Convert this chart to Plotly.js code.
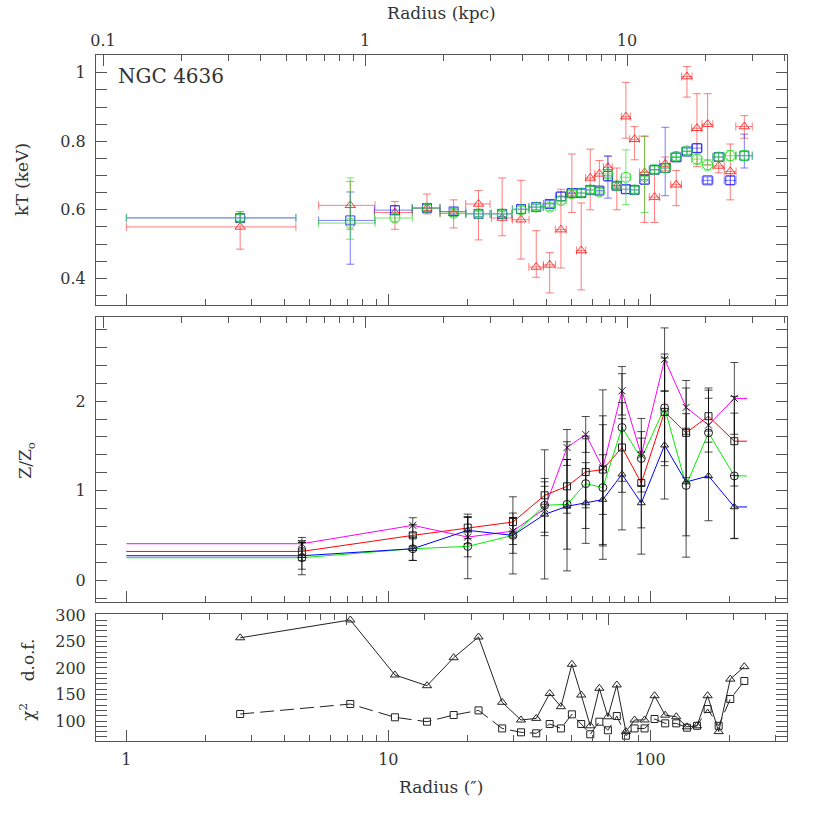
<!DOCTYPE html>
<html><head><meta charset="utf-8">
<script src="https://cdn.plot.ly/plotly-3.0.1.min.js"></script>
<style>html,body{margin:0;padding:0;background:#fff}#chart{width:830px;height:830px}</style>
</head><body><div id="chart"></div>
<script>
// ---------- Data ----------
// Top panel: temperature profile (arcsec)
const kTRadius = [2.72, 7.16, 10.6, 14.05, 17.76, 22.1, 27.2, 32.1, 36.7, 41.3, 45.6, 50.2, 54.5, 59.0, 63.9, 68.9, 74.5, 80.7, 87.1, 95.1, 103.8, 114, 125.6, 138, 150.7, 165.5, 182.4, 202, 228.5];
const kTRadiusErr = [1.72, 1.74, 1.75, 1.7, 2.0, 2.35, 2.45, 2.35, 2.3, 2.2, 2.2, 2.2, 2.2, 2.35, 2.45, 2.65, 2.95, 3.15, 3.6, 4.2, 4.7, 5.5, 6.0, 6.3, 6.9, 7.9, 9.1, 10.5, 16.5];
const kTRed = [0.55, 0.613, 0.592, 0.605, 0.590, 0.617, 0.576, 0.571, 0.433, 0.439, 0.542, 0.647, 0.481, 0.693, 0.705, 0.724, 0.670, 0.872, 0.806, 0.709, 0.637, 0.734, 0.673, 0.989, 0.838, 0.850, 0.728, 0.712, 0.843];
const kTRedErrHi = [0.045, 0.07, 0.032, 0.041, 0.039, 0.039, 0.117, 0.115, 0.106, 0.036, 0.118, 0.116, 0.139, 0.084, 0.039, 0.034, 0.052, 0.10, 0.037, 0.105, 0.08, 0.02, 0.042, 0.029, 0.101, 0.089, 0.015, 0.08, 0.032];
const kTRedErrLo = [0.065, 0.07, 0.049, 0.017, 0.043, 0.105, 0.052, 0.115, 0.03, 0.082, 0.112, 0.055, 0.115, 0.093, 0.039, 0.041, 0.07, 0.063, 0.06, 0.146, 0.074, 0.02, 0.061, 0.06, 0.112, 0.119, 0.02, 0.083, 0.034];
const kTBlue = [0.576, 0.569, 0.599, 0.605, 0.595, 0.588, 0.588, 0.602, 0.608, 0.617, 0.639, 0.649, 0.649, 0.658, 0.656, 0.699, 0.670, 0.660, 0.658, 0.688, 0.717, 0.722, 0.753, 0.770, 0.780, 0.686, 0.754, 0.686, 0.758];
const kTBlueErrHi = [0.01, 0.083, 0.012, 0.01, 0.01, 0.008, 0.008, 0.013, 0.008, 0.01, 0.012, 0.012, 0.01, 0.01, 0.01, 0.057, 0.01, 0.012, 0.01, 0.013, 0.012, 0.119, 0.012, 0.01, 0.012, 0.01, 0.012, 0.012, 0.063];
const kTBlueErrLo = [0.01, 0.128, 0.012, 0.01, 0.01, 0.008, 0.008, 0.013, 0.008, 0.01, 0.012, 0.012, 0.01, 0.01, 0.01, 0.065, 0.01, 0.012, 0.01, 0.013, 0.012, 0.081, 0.012, 0.01, 0.012, 0.01, 0.012, 0.012, 0.036];
const kTGreen = [0.577, 0.561, 0.576, 0.605, 0.590, 0.588, 0.588, 0.600, 0.608, 0.608, 0.627, 0.647, 0.649, 0.658, 0.652, 0.705, 0.670, 0.695, 0.658, 0.697, 0.717, 0.722, 0.756, 0.772, 0.748, 0.731, 0.754, 0.758, 0.758];
const kTGreenErrHi = [0.01, 0.132, 0.01, 0.01, 0.01, 0.01, 0.01, 0.01, 0.01, 0.01, 0.01, 0.01, 0.01, 0.01, 0.01, 0.012, 0.01, 0.08, 0.01, 0.119, 0.01, 0.012, 0.012, 0.01, 0.015, 0.015, 0.012, 0.015, 0.015];
const kTGreenErrLo = [0.01, 0.047, 0.01, 0.01, 0.01, 0.01, 0.01, 0.01, 0.01, 0.01, 0.01, 0.01, 0.01, 0.01, 0.01, 0.012, 0.01, 0.08, 0.01, 0.105, 0.01, 0.012, 0.012, 0.01, 0.015, 0.015, 0.012, 0.015, 0.015];

// Middle panel: abundance profile
const zRadius = [4.68, 12.4, 20.1, 29.9, 39.5, 48.1, 56.7, 65.9, 78.0, 92.4, 113.4, 137, 166.8, 209.3];
const zEdges = [1, 234];
const zMag = [0.41, 0.615, 0.484, 0.551, 0.80, 1.483, 1.628, 1.255, 2.115, 1.397, 2.466, 1.93, 1.732, 2.03];
const zMagErr = [0.07, 0.085, 0.22, 0.15, 0.3, 0.2, 0.2, 0.87, 0.27, 0.41, 0.35, 0.3, 0.3, 0.4];
const zRed = [0.324, 0.503, 0.589, 0.652, 0.95, 1.05, 1.21, 1.237, 1.483, 1.087, 1.88, 1.646, 1.832, 1.553];
const zRedErr = [0.1, 0.12, 0.12, 0.1, 0.1, 0.3, 0.4, 0.5, 0.5, 0.5, 0.6, 0.5, 0.29, 0.5];
const zBlue = [0.276, 0.354, 0.559, 0.503, 0.737, 0.827, 0.864, 0.902, 1.184, 0.864, 1.508, 1.098, 1.166, 0.82];
const zBlueErr = [0.15, 0.13, 0.15, 0.2, 0.72, 0.72, 0.45, 0.5, 0.62, 0.57, 0.6, 0.6, 0.5, 0.35];
const zGreen = [0.254, 0.354, 0.38, 0.503, 0.838, 0.849, 1.08, 1.036, 1.706, 1.36, 1.925, 1.06, 1.646, 1.166];
const zGreenErr = [0.19, 0.13, 0.36, 0.43, 0.3, 0.5, 0.5, 0.8, 0.6, 0.3, 0.6, 0.8, 0.5, 0.7];

// Bottom panel: chi^2 and d.o.f.
const chiRadius = kTRadius;
const chi2 = [257, 290.6, 186.8, 166.6, 219.4, 258.5, 135.3, 101.9, 105, 152, 127, 207, 149, 91, 161.7, 108, 168, 80, 102, 102, 147.7, 111, 108, 89, 91, 147.7, 80, 179, 202.5];
const dof = [113.2, 132, 107, 98.7, 111.3, 120, 86, 78.7, 76.8, 94.3, 86, 112.6, 94.3, 75, 98.7, 82.5, 109.4, 72.3, 86, 86, 103.8, 95.6, 95.6, 87.4, 91, 122.6, 91, 141.5, 175.5];

// Tick labels
const arcMajor = [1, 10, 100];
const arcMajorText = ['1', '10', '100'];
const arcMinor = [2,3,4,5,6,7,8,9,20,30,40,50,60,70,80,90,200,300];
const kpcMajor = [0.1, 1, 10];
const kpcMajorText = ['0.1', '1', '10'];
const kpcMinor = [0.2,0.3,0.4,0.5,0.6,0.7,0.8,0.9,2,3,4,5,6,7,8,9,20,30,40];

// ---------- Styles ----------
const FONT = 'DejaVu Serif, Liberation Serif, serif';
const AX = '#555';
const TXT = '#333';
const xRangeArc = [-0.1157, 2.5218];
const xRangeKpc = [-1.0267, 1.6107];
const xRangeKpcLow = [-1.0267 + 0.0725, 1.6107 + 0.0725];

const RED = 'rgba(255,20,20,0.85)', REDE = 'rgba(255,40,40,0.6)';
const BLUE = 'rgba(20,20,255,0.85)', BLUEE = 'rgba(40,40,255,0.6)';
const GREEN = 'rgba(30,225,30,0.9)', GREENE = 'rgba(40,220,40,0.65)';

function errY(hi, lo, col) { return {type:'data', array:hi, arrayminus:lo, symmetric:false, color:col, thickness:1, width:4}; }
function errX(arr, col) { return {type:'data', array:arr, color:col, thickness:1, width:4}; }

const traces = [];
// Top panel
traces.push({x:kTRadius, y:kTRed, xaxis:'x', yaxis:'y', mode:'markers',
  marker:{symbol:'triangle-up-open', size:9, color:RED, line:{width:1, color:RED}},
  error_y:errY(kTRedErrHi, kTRedErrLo, REDE), error_x:errX(kTRadiusErr, REDE)});
traces.push({x:kTRadius, y:kTBlue, xaxis:'x', yaxis:'y', mode:'markers',
  marker:{symbol:'square-open', size:9, color:BLUE, line:{width:1, color:BLUE}},
  error_y:errY(kTBlueErrHi, kTBlueErrLo, BLUEE), error_x:errX(kTRadiusErr, BLUEE)});
traces.push({x:kTRadius, y:kTGreen, xaxis:'x', yaxis:'y', mode:'markers',
  marker:{symbol:'circle-open', size:10, color:GREEN, line:{width:1, color:GREEN}},
  error_y:errY(kTGreenErrHi, kTGreenErrLo, GREENE), error_x:errX(kTRadiusErr, GREENE)});

// Middle panel
const zLineX = [zEdges[0], ...zRadius, zEdges[1]];
function ext(a) { return [a[0], ...a, a[a.length-1]]; }
const zSeries = [
  {y:zMag, e:zMagErr, c:'#ff00ff', s:'x-thin-open', sz:7},
  {y:zRed, e:zRedErr, c:'#ff0000', s:'square-open', sz:7},
  {y:zGreen, e:zGreenErr, c:'#00ee00', s:'circle-open', sz:8},
  {y:zBlue, e:zBlueErr, c:'#0000ff', s:'triangle-up-open', sz:7}
];
zSeries.forEach(s => {
  traces.push({x:zLineX, y:ext(s.y), xaxis:'x2', yaxis:'y2', mode:'lines', line:{color:s.c, width:1}});
});
zSeries.forEach(s => {
  traces.push({x:zRadius, y:s.y, xaxis:'x2', yaxis:'y2', mode:'markers',
    marker:{symbol:s.s, size:s.sz, color:'#222', line:{width:1, color:'#222'}},
    error_y:{type:'data', array:s.e, color:'rgba(0,0,0,0.7)', thickness:1, width:4}});
});

// Bottom panel
traces.push({x:chiRadius, y:chi2, xaxis:'x3', yaxis:'y3', mode:'lines+markers',
  line:{color:'#222', width:1}, marker:{symbol:'triangle-up-open', size:8, color:'#222', line:{width:1, color:'#222'}}});
traces.push({x:chiRadius, y:dof, xaxis:'x3', yaxis:'y3', mode:'lines+markers',
  line:{color:'#222', width:1, dash:'14px,6px'}, marker:{symbol:'square-open', size:7, color:'#222', line:{width:1, color:'#222'}}});

// dummy traces for kpc axes
['y','y2','y3'].forEach((ya, i) => {
  traces.push({x:[1], y:[null], xaxis:'x'+(4+i), yaxis:ya, mode:'markers', hoverinfo:'skip'});
});

function arcAxis(anchor, labels) {
  return {type:'log', range:xRangeArc, anchor:anchor, tickmode:'array', tickvals:arcMajor, ticktext:arcMajorText,
    showticklabels:labels, ticks:'inside', ticklen:11, tickwidth:1, tickcolor:AX,
    minor:{tickmode:'array', tickvals:arcMinor, ticks:'inside', ticklen:6, tickwidth:1, tickcolor:AX, showgrid:false},
    showline:true, linecolor:AX, linewidth:1, mirror:false, showgrid:false, zeroline:false,
    tickfont:{family:FONT, size:16, color:TXT}, ticklabelstandoff:4};
}
function kpcAxis(over, anchor, labels, range) {
  return {type:'log', range:range, overlaying:over, anchor:anchor, side:'top', tickmode:'array', tickvals:kpcMajor, ticktext:kpcMajorText,
    showticklabels:labels, ticks:'inside', ticklen:11, tickwidth:1, tickcolor:AX,
    minor:{tickmode:'array', tickvals:kpcMinor, ticks:'inside', ticklen:6, tickwidth:1, tickcolor:AX, showgrid:false},
    showline:true, linecolor:AX, linewidth:1, showgrid:false, zeroline:false,
    tickfont:{family:FONT, size:16, color:TXT}, ticklabelstandoff:2};
}
function yAxis(domain, anchor, range, dtick, mdtick) {
  return {domain:domain, anchor:anchor, range:range, dtick:dtick, tick0:0, ticks:'inside', ticklen:11, tickwidth:1, tickcolor:AX,
    minor:{dtick:mdtick, ticks:'inside', ticklen:6, tickwidth:1, tickcolor:AX, showgrid:false},
    showline:true, linecolor:AX, linewidth:1, mirror:'allticks', showgrid:false, zeroline:false,
    tickfont:{family:FONT, size:16, color:TXT}, ticklabelstandoff:6};
}

const layout = {
  width:830, height:830, showlegend:false,
  paper_bgcolor:'#fff', plot_bgcolor:'#fff',
  margin:{l:96, r:43, t:55, b:89},
  font:{family:FONT, color:TXT},
  xaxis: arcAxis('y', false),
  xaxis2: arcAxis('y2', false),
  xaxis3: arcAxis('y3', true),
  xaxis4: kpcAxis('x', 'y', true, xRangeKpc),
  xaxis5: kpcAxis('x2', 'y2', false, xRangeKpc),
  xaxis6: kpcAxis('x3', 'y3', false, xRangeKpcLow),
  yaxis: yAxis([0.6356, 1], 'x', [0.322, 1.052], 0.2, 0.05),
  yaxis2: yAxis([0.2022, 0.6176], 'x2', [-0.243, 2.934], 1, 0.2),
  yaxis3: yAxis([0, 0.1847], 'x3', [62.3, 301.3], 50, 10),
  annotations: [
    {text:'Radius (kpc)', xref:'paper', yref:'paper', x:0.4993, y:1.0612, showarrow:false, xanchor:'center', yanchor:'middle', font:{size:17, family:FONT, color:TXT}},
    {text:'Radius (″)', xref:'paper', yref:'paper', x:0.4993, y:-0.067, showarrow:false, xanchor:'center', yanchor:'middle', font:{size:17, family:FONT, color:TXT}},
    {text:'kT (keV)', xref:'paper', yref:'paper', x:-0.107, y:0.818, textangle:-90, showarrow:false, xanchor:'center', yanchor:'middle', font:{size:17, family:FONT, color:TXT}},
    {text:'Z/Z<sub>o</sub>', xref:'paper', yref:'paper', x:-0.1, y:0.41, textangle:-90, showarrow:false, xanchor:'center', yanchor:'middle', font:{size:17, family:FONT, color:TXT}},
    {text:'χ<sup>2</sup>\u00a0\u00a0\u00a0\u00a0d.o.f.', xref:'paper', yref:'paper', x:-0.1, y:0.089, textangle:-90, showarrow:false, xanchor:'center', yanchor:'middle', font:{size:17, family:FONT, color:TXT}},
    {text:'NGC 4636', xref:'paper', yref:'paper', x:(116-96)/691, y:(741-76)/686, showarrow:false, xanchor:'left', yanchor:'middle', font:{size:20, family:FONT, color:TXT}}
  ]
};

Plotly.newPlot('chart', traces, layout, {displayModeBar:false, staticPlot:true});
</script></body></html>
